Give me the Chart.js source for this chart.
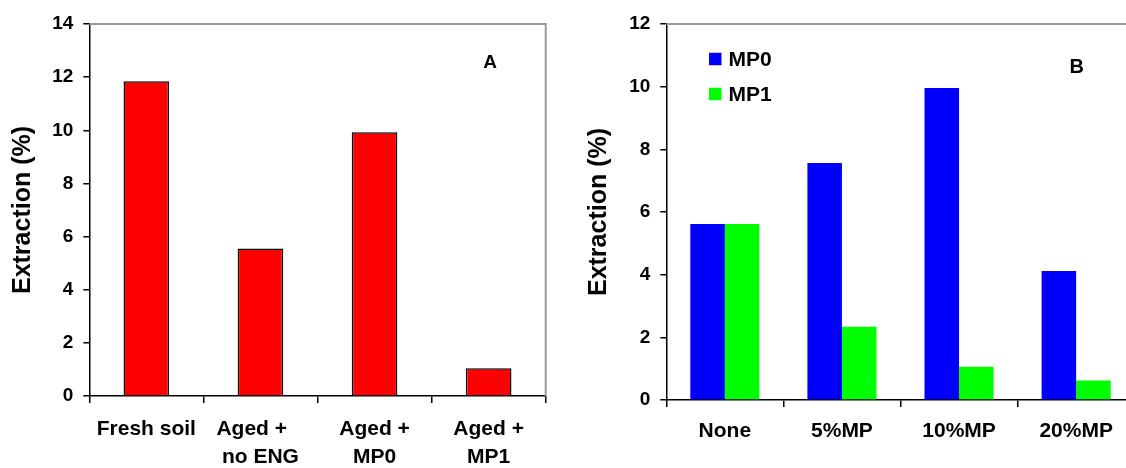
<!DOCTYPE html>
<html>
<head>
<meta charset="utf-8">
<script src="https://cdn.jsdelivr.net/npm/chart.js@4.4.1/dist/chart.umd.min.js"></script>
<style>
  html, body { margin: 0; padding: 0; background: #fff; overflow: hidden; }
  body { width: 1126px; height: 468px; position: relative; }
  canvas { position: absolute; top: 0; }
  #chartA { left: 0; }
  #chartB { left: 570px; }
</style>
</head>
<body>
<canvas id="chartA" width="563" height="468"></canvas>
<canvas id="chartB" width="570" height="468"></canvas>
<script>
// Panel A: extraction by soil treatment
const soilLabels     = ["Fresh soil", ["Aged +   ", "no ENG"], ["Aged +", "MP0"], ["Aged +", "MP1"]];
const soilExtraction = [11.85, 5.55, 9.93, 1.04];
const yTicksA        = [0, 2, 4, 6, 8, 10, 12, 14];

// Panel B: extraction by MP dose
const doseLabels    = ["None", "5%MP", "10%MP", "20%MP"];
const mp0Extraction = [5.62, 7.56, 9.96, 4.12];
const mp1Extraction = [5.62, 2.34, 1.06, 0.62];
const yTicksB       = [0, 2, 4, 6, 8, 10, 12];

const FONT = "'Liberation Sans', Arial, sans-serif";
Chart.defaults.font.family = FONT;
Chart.defaults.font.weight = "bold";
Chart.defaults.color = "#000";

// grey top/right frame, panel letter and optional legend
const panelPlugin = {
  id: "panel",
  afterDraw(chart, args, opts) {
    const { ctx, chartArea: a } = chart;
    ctx.save();
    ctx.strokeStyle = "#999";
    ctx.lineWidth = 2;
    ctx.beginPath();
    ctx.moveTo(a.left, a.top);
    ctx.lineTo(a.right, a.top);
    ctx.lineTo(a.right, a.bottom);
    ctx.stroke();

    ctx.fillStyle = "#000";
    ctx.font = `bold ${opts.letterSize}px ${FONT}`;
    ctx.textAlign = "center";
    ctx.textBaseline = "middle";
    ctx.fillText(opts.letter, opts.letterX, opts.letterY);

    if (opts.legend) {
      const L = opts.legend;
      ctx.textAlign = "left";
      ctx.font = `bold ${L.size}px ${FONT}`;
      chart.data.datasets.forEach((ds, i) => {
        const y = L.y + i * L.gap;
        ctx.fillStyle = ds.backgroundColor;
        ctx.fillRect(L.x, y - L.box / 2, L.box, L.box);
        ctx.fillStyle = "#000";
        ctx.fillText(ds.label, L.x + L.box + 7, y + 1);
      });
    }
    ctx.restore();
  }
};

function yScale(ticks, width, titlePad) {
  return {
    min: ticks[0],
    max: ticks[ticks.length - 1],
    afterFit: s => { s.width = width; },
    ticks: { stepSize: ticks[1] - ticks[0], font: { size: 19 }, padding: 10 },
    grid: { drawOnChartArea: false, drawTicks: true, tickLength: 6, color: "#000", lineWidth: 1.5 },
    border: { display: true, color: "#000", width: 1.5 },
    title: { display: true, text: "Extraction (%)", font: { size: 25, weight: "bold" }, padding: { top: titlePad, bottom: 0 } }
  };
}

function xScale(height, pad) {
  return {
    z: 1,
    afterFit: s => { s.height = height; },
    ticks: { font: { size: 21, lineHeight: 1.3 }, padding: pad, maxRotation: 0, autoSkip: false },
    grid: { offset: true, drawOnChartArea: false, drawTicks: true, tickLength: 7, color: "#000", lineWidth: 1.5 },
    border: { display: true, color: "#000", width: 1.5 }
  };
}

const common = {
  responsive: false,
  animation: false,
  plugins: { legend: { display: false }, tooltip: { enabled: false } }
};

new Chart(document.getElementById("chartA"), {
  type: "bar",
  data: {
    labels: soilLabels,
    datasets: [{
      label: "Extraction",
      data: soilExtraction,
      backgroundColor: "#ff0000",
      borderColor: "#000",
      borderWidth: 1.5,
      borderSkipped: "bottom",
      categoryPercentage: 0.4,
      barPercentage: 1
    }]
  },
  options: {
    ...common,
    layout: { padding: { top: 24, right: 17.3, left: 0, bottom: 0 } },
    scales: { x: xScale(72, 13), y: yScale(yTicksA, 89.3, 8) },
    plugins: { ...common.plugins, panel: { letter: "A", letterSize: 19, letterX: 490, letterY: 63 } }
  },
  plugins: [panelPlugin]
});

new Chart(document.getElementById("chartB"), {
  type: "bar",
  data: {
    labels: doseLabels,
    datasets: [
      { label: "MP0", data: mp0Extraction, backgroundColor: "#0000ff", borderWidth: 0, categoryPercentage: 0.59, barPercentage: 1 },
      { label: "MP1", data: mp1Extraction, backgroundColor: "#00ff00", borderWidth: 0, categoryPercentage: 0.59, barPercentage: 1 }
    ]
  },
  options: {
    ...common,
    layout: { padding: { top: 24, right: 5.3, left: 0, bottom: 0 } },
    scales: { x: xScale(68, 11), y: yScale(yTicksB, 96.3, 14.6) },
    plugins: {
      ...common.plugins,
      panel: {
        letter: "B", letterSize: 20, letterX: 506.7, letterY: 67.5,
        legend: { x: 139, y: 59, gap: 35, box: 12.5, size: 21 }
      }
    }
  },
  plugins: [panelPlugin]
});
</script>
</body>
</html>
